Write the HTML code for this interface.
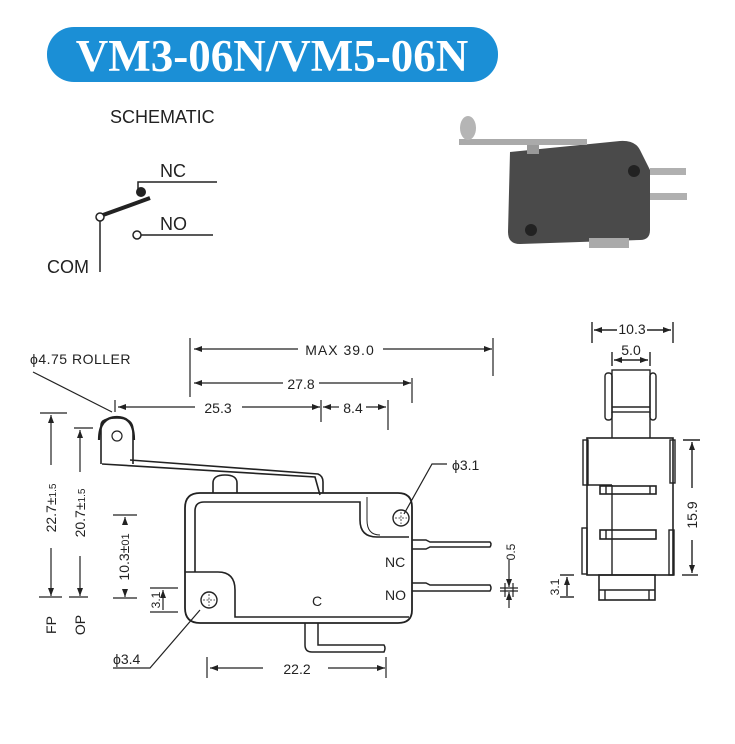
<!DOCTYPE html>
<html><head><meta charset="utf-8"><style>
html,body{margin:0;padding:0;background:#fff}
svg{display:block}
text{font-family:"Liberation Sans",sans-serif;fill:#222}
</style></head><body>
<svg width="735" height="744" viewBox="0 0 735 744" xmlns="http://www.w3.org/2000/svg">
<defs>
<marker id="a" markerWidth="8" markerHeight="6" refX="8" refY="3" orient="auto-start-reverse" markerUnits="userSpaceOnUse"><path d="M0,0 L8,3 L0,6 Z" fill="#222"/></marker>
</defs>
<rect x="47" y="27" width="451" height="55" rx="27" fill="#1b8fd6"/>
<text x="272" y="71" text-anchor="middle" style="font-family:'Liberation Serif',serif;font-weight:bold;font-size:45px;fill:#fff">VM3-06N/VM5-06N</text>
<text x="110" y="123" style="font-size:18px">SCHEMATIC</text>
<text x="160" y="177" style="font-size:18px">NC</text>
<text x="160" y="230" style="font-size:18px">NO</text>
<text x="47" y="273" style="font-size:18px">COM</text>
<g stroke="#222" fill="none" stroke-width="1.5">
<path d="M217 182 H138 V190"/>
<line x1="100" y1="221" x2="100" y2="272"/>
<line x1="141" y1="235" x2="213" y2="235"/>
<circle cx="100" cy="217" r="4" fill="#fff"/>
<circle cx="137" cy="235" r="4" fill="#fff"/>
</g>
<line x1="103" y1="215" x2="150" y2="198" stroke="#222" stroke-width="4"/>
<circle cx="141" cy="192" r="5" fill="#222"/>
<!-- photo -->
<g>
<path d="M510 152 L620 141 Q635 140 640 150 L650 170 L650 230 Q650 240 640 240 L520 244 Q508 244 508 232 Z" fill="#4a4a4a"/>
<rect x="459" y="139" width="128" height="6" fill="#aaa"/>
<rect x="527" y="145" width="12" height="9" fill="#999"/>
<ellipse cx="468" cy="128" rx="8" ry="12" fill="#b5b5b5"/>
<rect x="650" y="168" width="36" height="7" fill="#b0b0b0"/>
<rect x="650" y="193" width="37" height="7" fill="#b0b0b0"/>
<rect x="589" y="238" width="40" height="10" fill="#aaa"/>
<circle cx="634" cy="171" r="6" fill="#222"/>
<circle cx="531" cy="230" r="6" fill="#222"/>
</g>
<g stroke="#222" fill="none" stroke-width="1.2">
<line x1="190" y1="338" x2="190" y2="397"/>
<line x1="493" y1="338" x2="493" y2="376"/>
<line x1="194" y1="349" x2="298" y2="349" marker-start="url(#a)"/>
<line x1="383" y1="349" x2="492" y2="349" marker-end="url(#a)"/>
<line x1="412" y1="378" x2="412" y2="403"/>
<line x1="194" y1="383" x2="283" y2="383" marker-start="url(#a)"/>
<line x1="319" y1="383" x2="411" y2="383" marker-end="url(#a)"/>
<line x1="115" y1="400" x2="115" y2="412"/>
<line x1="321" y1="400" x2="321" y2="422"/>
<line x1="388" y1="400" x2="388" y2="430"/>
<line x1="118" y1="407" x2="195" y2="407" marker-start="url(#a)"/>
<line x1="242" y1="407" x2="320" y2="407" marker-end="url(#a)"/>
<line x1="323" y1="407" x2="339" y2="407" marker-start="url(#a)"/>
<line x1="366" y1="407" x2="386" y2="407" marker-end="url(#a)"/>
<path d="M33 372 L112 412"/>
<line x1="40" y1="413" x2="67" y2="413"/>
<line x1="51" y1="415" x2="51" y2="465" marker-start="url(#a)"/>
<line x1="51" y1="548" x2="51" y2="596" marker-end="url(#a)"/>
<line x1="39" y1="597" x2="62" y2="597"/>
<line x1="74" y1="428" x2="93" y2="428"/>
<line x1="80" y1="430" x2="80" y2="472" marker-start="url(#a)"/>
<line x1="80" y1="556" x2="80" y2="596" marker-end="url(#a)"/>
<line x1="69" y1="597" x2="88" y2="597"/>
<line x1="113" y1="515" x2="137" y2="515"/>
<line x1="125" y1="517" x2="125" y2="525" marker-start="url(#a)"/>
<line x1="125" y1="590" x2="125" y2="597" marker-end="url(#a)"/>
<line x1="113" y1="598" x2="137" y2="598"/>
<line x1="150" y1="588" x2="178" y2="588"/>
<line x1="150" y1="612" x2="178" y2="612"/>
<line x1="163" y1="590" x2="163" y2="610" marker-start="url(#a)"/>
<path d="M102 464 L315 477 L320 495" stroke-width="1.6"/>
<path d="M130 460 L318 474 Q323 476 323 482 L323 493" stroke-width="1.6"/>
<path d="M101 464 L101 425 Q101 418 117 418 Q133 418 133 430 L133 464" stroke-width="1.6"/>
<path d="M99 440 Q99 417 117 417 Q134 417 134 440" stroke-width="2.2"/>
<circle cx="117" cy="436" r="5"/>
<path d="M213 493 L213 483 Q213 475 225 475 Q237 475 237 483 L237 493" stroke-width="1.6"/>
<path d="M200 493 L398 493 Q412 493 412 507 L412 610 Q412 623 398 623 L200 623 Q185 623 185 608 L185 508 Q185 493 200 493 Z" stroke-width="1.8"/>
<path d="M195 572 L195 511 Q195 502 204 502 L360 502 L360 520 Q360 537 377 537 L409 537" stroke-width="1.6"/>
<path d="M185 572 L218 572 Q235 572 235 590 L235 617 L409 617" stroke-width="1.6"/>
<path d="M367 497 L367 520 Q367 535 380 535" stroke-width="1"/>
<circle cx="401" cy="518" r="8" stroke-width="1.4"/>
<circle cx="209" cy="600" r="8" stroke-width="1.4"/>
<path d="M401 512 V524 M395 518 H407 M209 594 V606 M203 600 H215" stroke-dasharray="2 1.5" stroke-width="0.8"/>
<path d="M412 540 L426 540 L430 542 L490 542 Q492 544 490 547 L430 547 L426 549 L412 549" stroke-width="1.5"/>
<path d="M412 583 L426 583 L430 585 L490 585 Q492 588 490 591 L430 591 L426 591 L412 591" stroke-width="1.5"/>
<path d="M305 623 L305 645 Q305 652 312 652 L384 652 Q386 648 384 645 L318 645 L318 623" stroke-width="1.5"/>
<path d="M404 514 L432 464 L447 464"/>
<path d="M200 610 L150 668 L113 668"/>
<line x1="207" y1="657" x2="207" y2="678"/>
<line x1="386" y1="657" x2="386" y2="678"/>
<line x1="210" y1="668" x2="263" y2="668" marker-start="url(#a)"/>
<line x1="328" y1="668" x2="385" y2="668" marker-end="url(#a)"/>
<line x1="500" y1="588" x2="518" y2="588"/>
<line x1="500" y1="591" x2="518" y2="591"/>
<line x1="509" y1="560" x2="509" y2="587" marker-end="url(#a)"/>
<line x1="509" y1="608" x2="509" y2="592" marker-end="url(#a)"/>
<line x1="505" y1="583" x2="505" y2="597"/><line x1="513" y1="583" x2="513" y2="597"/>
</g>
<g style="font-size:14px">
<text x="340" y="355" text-anchor="middle" letter-spacing="1">MAX 39.0</text>
<text x="301" y="389" text-anchor="middle">27.8</text>
<text x="218" y="413" text-anchor="middle">25.3</text>
<text x="353" y="413" text-anchor="middle">8.4</text>
<text x="30" y="364" letter-spacing="0.5">ϕ4.75  ROLLER</text>
<text x="452" y="470">ϕ3.1</text>
<text x="113" y="664">ϕ3.4</text>
<text x="297" y="674" text-anchor="middle">22.2</text>
<text x="385" y="567">NC</text>
<text x="385" y="600">NO</text>
<text x="312" y="606">C</text>
<text transform="translate(56,508) rotate(-90)" text-anchor="middle">22.7±<tspan style="font-size:10px">1.5</tspan></text>
<text transform="translate(85,513) rotate(-90)" text-anchor="middle">20.7±<tspan style="font-size:10px">1.5</tspan></text>
<text transform="translate(129,557) rotate(-90)" text-anchor="middle">10.3±<tspan style="font-size:11px">01</tspan></text>
<text transform="translate(160,600) rotate(-90)" text-anchor="middle" style="font-size:12px">3.1</text>
<text transform="translate(56,625) rotate(-90)" text-anchor="middle">FP</text>
<text transform="translate(85,625) rotate(-90)" text-anchor="middle">OP</text>
<text transform="translate(515,552) rotate(-90)" text-anchor="middle" style="font-size:12px">0.5</text>
</g>
<g stroke="#222" fill="none" stroke-width="1.4">
<line x1="592" y1="322" x2="592" y2="343"/><line x1="673" y1="322" x2="673" y2="343"/>
<line x1="594" y1="330" x2="617" y2="330" marker-start="url(#a)"/>
<line x1="647" y1="330" x2="671" y2="330" marker-end="url(#a)"/>
<line x1="612" y1="352" x2="612" y2="366"/><line x1="650" y1="352" x2="650" y2="366"/>
<line x1="614" y1="360" x2="648" y2="360" marker-start="url(#a)" marker-end="url(#a)"/>
<rect x="612" y="370" width="38" height="42"/>
<line x1="612" y1="407" x2="650" y2="407"/>
<rect x="605" y="373" width="7" height="47" rx="3"/>
<rect x="650" y="373" width="6" height="47" rx="3"/>
<path d="M612 412 V438 M650 412 V438"/>
<rect x="587" y="438" width="86" height="137" stroke-width="1.6"/>
<rect x="583" y="440" width="5" height="45"/>
<rect x="670" y="440" width="5" height="43"/>
<rect x="582" y="528" width="5" height="46"/>
<rect x="669" y="530" width="5" height="45"/>
<line x1="612" y1="485" x2="612" y2="575"/>
<line x1="587" y1="485" x2="612" y2="485"/>
<rect x="600" y="486" width="56" height="8" stroke-width="1.6"/>
<line x1="606" y1="486" x2="606" y2="494"/><line x1="650" y1="486" x2="650" y2="494"/>
<rect x="600" y="530" width="56" height="9" stroke-width="1.6"/>
<line x1="606" y1="530" x2="606" y2="539"/>
<rect x="599" y="575" width="56" height="25" stroke-width="1.6"/>
<line x1="599" y1="590" x2="655" y2="590"/>
<line x1="605" y1="590" x2="605" y2="600"/><line x1="649" y1="590" x2="649" y2="600"/>
<line x1="683" y1="440" x2="700" y2="440"/><line x1="682" y1="575" x2="698" y2="575"/>
<line x1="692" y1="442" x2="692" y2="488" marker-start="url(#a)"/>
<line x1="692" y1="540" x2="692" y2="573" marker-end="url(#a)"/>
<line x1="560" y1="575" x2="574" y2="575"/><line x1="560" y1="597" x2="574" y2="597"/>
<line x1="567" y1="577" x2="567" y2="596" marker-start="url(#a)"/>
</g>
<g style="font-size:14px">
<text x="632" y="334" text-anchor="middle">10.3</text>
<text x="631" y="355" text-anchor="middle">5.0</text>
<text transform="translate(697,515) rotate(-90)" text-anchor="middle">15.9</text>
<text transform="translate(559,587) rotate(-90)" text-anchor="middle" style="font-size:12px">3.1</text>
</g>
</svg>
</body></html>
